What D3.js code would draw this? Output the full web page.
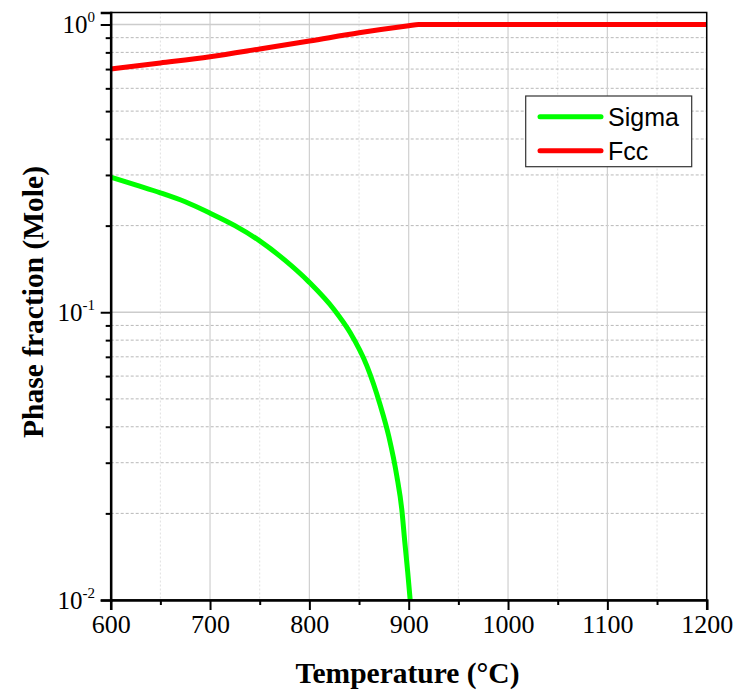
<!DOCTYPE html>
<html><head><meta charset="utf-8">
<script src="https://cdn.jsdelivr.net/npm/d3@7"></script>
<style>body{margin:0;background:#fff}</style>
</head><body>
<svg id="c" width="734" height="691"></svg>
<script>
const sigmaT = [600, 625, 650, 675, 700, 725, 750, 775, 800, 825, 841, 858, 871, 880, 888, 893, 896, 899, 901.5];
const sigmaV = [0.295, 0.277, 0.26, 0.242, 0.221, 0.20, 0.177, 0.152, 0.127, 0.102, 0.085, 0.065, 0.048, 0.037, 0.027, 0.0207, 0.016, 0.0125, 0.01];
const fccT = [600, 650, 700, 750, 800, 850, 900, 910, 1200];
const fccV = [0.70, 0.735, 0.773, 0.822, 0.876, 0.936, 0.99, 1.0, 1.0];
const xTicks = [600, 700, 800, 900, 1000, 1100, 1200];
const xMinor = [650, 750, 850, 950, 1050, 1150];
const yMajor = [1, 0.1, 0.01];
const yExp = ["0", "-1", "-2"];
const yMinor = [0.02,0.03,0.04,0.05,0.06,0.07,0.08,0.09,0.2,0.3,0.4,0.5,0.6,0.7,0.8,0.9];
const seriesNames = ["Sigma", "Fcc"];
const seriesColors = ["#00ff00", "#ff0000"];

const L = 110.7, R = 706.7, T = 12.5, B = 600;
const svg = d3.select("#c");
const x = d3.scaleLinear().domain([600, 1200]).range([L, R]);
const y = d3.scaleLog().domain([0.01, Math.pow(10, 12/288)]).range([B, T]);

// grid
const g = svg.append("g");
g.selectAll(".xm").data(xMinor).enter().append("line")
  .attr("x1", d => x(d)).attr("x2", d => x(d)).attr("y1", T).attr("y2", B)
  .attr("stroke", "#e0e0e0").attr("stroke-width", 1).attr("stroke-dasharray", "2,2");
g.selectAll(".ym").data(yMinor).enter().append("line")
  .attr("x1", L).attr("x2", R).attr("y1", d => y(d)).attr("y2", d => y(d))
  .attr("stroke", "#b8b8b8").attr("stroke-width", 1).attr("stroke-dasharray", "3,2");
g.selectAll(".xM").data(xTicks).enter().append("line")
  .attr("x1", d => x(d)).attr("x2", d => x(d)).attr("y1", T).attr("y2", B)
  .attr("stroke", "#d0d0d0").attr("stroke-width", 1.2);
g.selectAll(".yM").data(yMajor).enter().append("line")
  .attr("x1", L).attr("x2", R).attr("y1", d => y(d)).attr("y2", d => y(d))
  .attr("stroke", "#cccccc").attr("stroke-width", 1.5);

// lines
const line = d3.line().x(d => x(d[0])).y(d => y(d[1])).curve(d3.curveMonotoneX);
const sigmaData = sigmaT.map((t, i) => [t, sigmaV[i]]);
const fccData = fccT.map((t, i) => [t, fccV[i]]);
svg.append("path").datum(sigmaData).attr("d", line).attr("fill", "none")
  .attr("stroke", seriesColors[0]).attr("stroke-width", 5).attr("stroke-linejoin", "round");
svg.append("path").datum(fccData).attr("d", line).attr("fill", "none")
  .attr("stroke", seriesColors[1]).attr("stroke-width", 5).attr("stroke-linejoin", "round");

// frame
svg.append("rect").attr("x", L).attr("y", T).attr("width", R - L).attr("height", B - T)
  .attr("fill", "none").attr("stroke", "#000").attr("stroke-width", 1.5);

// axes
const xAxis = d3.axisBottom(x).tickValues(xTicks).tickSize(10).tickFormat(d3.format("d"));
const xa = svg.append("g").attr("transform", `translate(0,${B})`).call(xAxis);
xa.select(".domain").attr("stroke-width", 2.5);
xa.selectAll(".tick line").attr("stroke-width", 2);
xa.selectAll("text").attr("font-family", "Liberation Serif").attr("font-size", 26).attr("fill", "#000").attr("dy", "0.71em").attr("y", 15);
svg.append("g").attr("transform", `translate(0,${B})`)
  .call(d3.axisBottom(x).tickValues(xMinor).tickSize(5).tickFormat(""))
  .call(s => s.select(".domain").remove()).selectAll("line").attr("stroke-width", 2);

const yAxis = d3.axisLeft(y).tickValues(yMajor).tickSize(10).tickFormat("");
const ya = svg.append("g").attr("transform", `translate(${L},0)`).call(yAxis);
ya.select(".domain").attr("stroke-width", 2.5);
ya.selectAll(".tick line").attr("stroke-width", 2);
svg.append("g").attr("transform", `translate(${L},0)`)
  .call(d3.axisLeft(y).tickValues(yMinor).tickSize(5).tickFormat(""))
  .call(s => s.select(".domain").remove()).selectAll("line").attr("stroke-width", 2);

const yl = svg.append("g").selectAll("text").data(yMajor).enter().append("text")
  .attr("x", 95).attr("y", d => y(d) + 9).attr("text-anchor", "end")
  .attr("font-family", "Liberation Serif").attr("font-size", 25).attr("fill", "#000");
yl.append("tspan").text("10");
yl.append("tspan").attr("dy", -11).attr("font-size", 15).text((d, i) => yExp[i]);

// titles
svg.append("text").attr("x", 407.5).attr("y", 683).attr("text-anchor", "middle")
  .attr("font-family", "Liberation Serif").attr("font-weight", "bold").attr("font-size", 29.5)
  .text("Temperature (°C)");
svg.append("text").attr("transform", `translate(42.5,302) rotate(-90)`).attr("text-anchor", "middle")
  .attr("font-family", "Liberation Serif").attr("font-weight", "bold").attr("font-size", 29.5)
  .text("Phase fraction (Mole)");

// legend
const lg = svg.append("g");
lg.append("rect").attr("x", 525.7).attr("y", 96).attr("width", 166).attr("height", 70.7)
  .attr("fill", "#fff").attr("stroke", "#333").attr("stroke-width", 1.2);
seriesNames.forEach((n, i) => {
  const yy = 116.7 + i * 34;
  lg.append("line").attr("x1", 540).attr("x2", 601).attr("y1", yy).attr("y2", yy)
    .attr("stroke", seriesColors[i]).attr("stroke-width", 5).attr("stroke-linecap", "round");
  lg.append("text").attr("x", 608).attr("y", yy + 9).attr("font-family", "Liberation Sans")
    .attr("font-size", 25).attr("fill", "#000").text(n);
});
</script>
</body></html>
